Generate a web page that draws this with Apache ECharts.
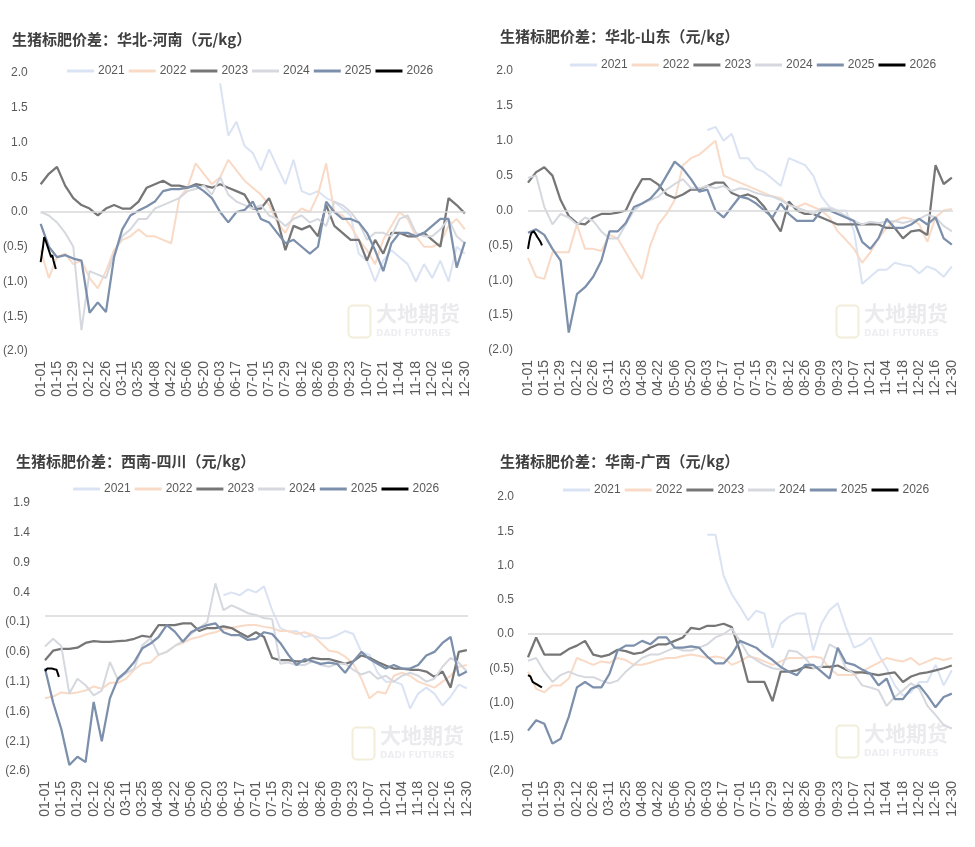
<!DOCTYPE html>
<html><head><meta charset="utf-8">
<script src="https://cdn.jsdelivr.net/npm/echarts/dist/echarts.min.js"></script>
<style>html,body{margin:0;padding:0;background:#fff}#c{width:975px;height:847px}</style>
</head><body><div id="c"></div>
<script>
// ---------- axis categories (leap-year calendar, MM-DD) ----------
const dates = [];
for (let t = Date.UTC(2024, 0, 1); t <= Date.UTC(2024, 11, 31); t += 86400000) {
  const d = new Date(t);
  dates.push(String(d.getUTCMonth() + 1).padStart(2, '0') + '-' + String(d.getUTCDate()).padStart(2, '0'));
}
const years = ['2021', '2022', '2023', '2024', '2025', '2026'];
const STEP = 7;        // main series: one reading every 7 days from 01-01
const STEP_2026 = 1;   // 2026: daily readings from 01-01

// ---------- 华北-河南 ----------
const henan2021 = [null,null,null,null,null,null,null,null,null,null,null,null,null,null,null,null,null,null,null,null,null,null,
  1.85,1.1,1.3,0.95,0.85,0.6,0.9,0.65,0.4,0.75,0.3,0.25,0.3,0.2,0.15,0.05,-0.05,-0.6,-0.7,-1.0,-0.7,-0.55,-0.65,-0.75,-1.0,-0.75,-0.95,-0.7,-1.0,-0.5,-0.6];
const henan2022 = [-0.55,-0.95,-0.65,-0.6,-0.75,-0.7,-0.95,-1.1,-0.85,-0.55,-0.4,-0.35,-0.25,-0.35,-0.35,-0.4,-0.45,0.2,0.35,0.7,0.55,0.4,0.5,0.75,0.6,0.45,0.35,0.25,0.1,-0.15,-0.3,-0.05,0.05,0.0,0.25,0.7,0.0,-0.05,-0.2,-0.4,-0.55,-0.75,-0.4,-0.2,0.0,-0.1,-0.35,-0.5,-0.5,-0.45,-0.2,-0.1,-0.25];
const henan2023 = [0.4,0.55,0.65,0.38,0.2,0.1,0.05,-0.05,0.05,0.1,0.05,0.05,0.15,0.35,0.4,0.45,0.38,0.38,0.35,0.4,0.38,0.35,0.4,0.35,0.3,0.25,0.05,0.05,0.2,-0.1,-0.55,-0.2,-0.25,-0.2,-0.35,0.1,-0.2,-0.3,-0.4,-0.4,-0.7,-0.4,-0.6,-0.3,-0.3,-0.35,-0.35,-0.3,-0.4,-0.5,0.2,0.1,-0.02];
const henan2024 = [0.0,-0.05,-0.15,-0.3,-0.5,-1.7,-0.85,-0.9,-0.95,-0.6,-0.35,-0.25,-0.1,-0.1,0.05,0.1,0.15,0.2,0.3,0.33,0.38,0.25,0.5,0.25,0.15,0.1,0.05,0.1,-0.05,-0.1,-0.2,-0.1,-0.05,-0.15,-0.1,-0.2,0.15,0.1,0.0,-0.15,-0.4,-0.3,-0.3,-0.35,-0.1,-0.05,-0.3,-0.35,-0.35,-0.25,-0.1,-0.35,-0.45];
const henan2025 = [-0.17,-0.5,-0.65,-0.62,-0.67,-0.7,-1.45,-1.3,-1.44,-0.65,-0.25,-0.05,0.02,0.08,0.15,0.3,0.33,0.33,0.35,0.38,0.3,0.2,0.0,-0.15,0.0,0.03,0.15,-0.1,-0.15,-0.3,-0.45,-0.4,-0.5,-0.6,-0.5,0.15,0.0,-0.1,-0.1,-0.15,-0.3,-0.55,-0.85,-0.45,-0.3,-0.3,-0.35,-0.3,-0.2,-0.1,-0.1,-0.8,-0.43];
const henan2026 = [-0.72,-0.7,-0.5,-0.36,-0.4,-0.45,-0.5,-0.55,-0.6,-0.65,-0.62,-0.7,-0.68,-0.82];

// ---------- 华北-山东 ----------
const shandong2021 = [null,null,null,null,null,null,null,null,null,null,null,null,null,null,null,null,null,null,null,null,null,null,
  1.15,1.2,1.0,1.1,0.75,0.75,0.6,0.55,0.45,0.35,0.75,0.7,0.65,0.5,0.2,0.05,0.0,0.0,-0.3,-1.05,-0.95,-0.85,-0.85,-0.75,-0.78,-0.8,-0.9,-0.8,-0.85,-0.95,-0.8];
const shandong2022 = [-0.68,-0.95,-0.98,-0.6,-0.6,-0.6,-0.2,-0.55,-0.55,-0.58,-0.35,-0.4,-0.6,-0.8,-0.98,-0.5,-0.2,-0.05,0.15,0.65,0.75,0.8,0.9,1.0,0.5,0.45,0.4,0.35,0.3,0.25,0.2,0.18,0.08,0.05,0.1,0.05,0.0,-0.1,-0.3,-0.42,-0.55,-0.75,-0.6,-0.4,-0.25,-0.15,-0.1,-0.12,-0.2,-0.45,-0.1,0.0,0.02];
const shandong2023 = [0.4,0.55,0.62,0.5,0.15,-0.08,-0.18,-0.2,-0.1,-0.05,-0.05,-0.03,0.0,0.25,0.45,0.45,0.37,0.23,0.18,0.23,0.3,0.3,0.35,0.4,0.4,0.25,0.2,0.23,0.18,0.05,-0.12,-0.3,0.13,0.0,-0.05,-0.05,-0.1,-0.15,-0.2,-0.2,-0.2,-0.2,-0.2,-0.2,-0.25,-0.25,-0.4,-0.3,-0.28,-0.35,0.65,0.38,0.47];
const shandong2024 = [0.47,0.5,0.05,-0.2,-0.05,-0.1,-0.2,-0.1,-0.15,-0.3,-0.4,-0.4,-0.2,0.0,0.1,0.15,0.2,0.3,0.38,0.45,0.32,0.32,0.35,0.32,0.35,0.28,0.32,0.3,0.25,0.22,0.2,0.15,0.08,0.04,0.0,-0.05,0.03,0.03,-0.01,-0.08,-0.15,-0.2,-0.16,-0.18,-0.16,-0.15,-0.18,-0.15,-0.12,-0.06,-0.1,-0.22,-0.3];
const shandong2025 = [-0.32,-0.27,-0.35,-0.55,-0.72,-1.75,-1.2,-1.1,-0.95,-0.72,-0.3,-0.3,-0.18,0.05,0.1,0.17,0.3,0.5,0.7,0.6,0.45,0.27,0.3,0.0,-0.1,0.05,0.2,0.17,0.1,0.0,-0.1,0.1,-0.05,-0.15,-0.15,-0.15,0.0,0.0,-0.05,-0.1,-0.15,-0.45,-0.55,-0.4,-0.12,-0.25,-0.25,-0.2,-0.12,-0.2,-0.1,-0.4,-0.49];
const shandong2026 = [-0.55,-0.45,-0.37,-0.32,-0.3,-0.3,-0.32,-0.35,-0.38,-0.4,-0.43,-0.46,-0.5];

// ---------- 西南-四川 ----------
const sichuan2021 = [null,null,null,null,null,null,null,null,null,null,null,null,null,null,null,null,null,null,null,null,null,null,
  0.35,0.4,0.35,0.45,0.4,0.5,0.1,-0.2,-0.26,-0.25,-0.35,-0.32,-0.37,-0.37,-0.32,-0.25,-0.3,-0.6,-0.65,-0.95,-1.1,-1.1,-1.15,-1.55,-1.3,-1.2,-1.3,-1.5,-1.35,-1.15,-1.21];
const sichuan2022 = [-1.38,-1.35,-1.28,-1.3,-1.28,-1.25,-1.18,-1.22,-1.12,-1.12,-1.05,-0.9,-0.8,-0.78,-0.65,-0.6,-0.5,-0.45,-0.38,-0.35,-0.3,-0.27,-0.22,-0.2,-0.17,-0.15,-0.15,-0.18,-0.2,-0.25,-0.25,-0.3,-0.27,-0.32,-0.45,-0.58,-0.6,-0.68,-0.8,-1.05,-1.38,-1.27,-1.3,-1.0,-0.95,-1.0,-1.1,-1.15,-1.2,-1.1,-1.0,-0.85,-0.82];
const sichuan2023 = [-0.74,-0.58,-0.55,-0.55,-0.53,-0.45,-0.42,-0.43,-0.43,-0.42,-0.41,-0.38,-0.33,-0.35,-0.15,-0.15,-0.15,-0.12,-0.12,-0.25,-0.2,-0.2,-0.17,-0.2,-0.28,-0.35,-0.27,-0.35,-0.7,-0.74,-0.74,-0.76,-0.76,-0.7,-0.72,-0.72,-0.76,-0.8,-0.76,-0.66,-0.7,-0.77,-0.83,-0.88,-0.88,-0.9,-0.9,-0.93,-1.02,-0.93,-1.2,-0.6,-0.57];
const sichuan2024 = [-0.51,-0.38,-0.5,-1.3,-1.05,-1.16,-1.33,-1.25,-0.77,-1.07,-0.96,-0.88,-0.49,-0.37,-0.65,-0.6,-0.5,-0.42,-0.3,-0.2,-0.1,0.55,0.1,0.18,0.12,0.05,0.02,-0.03,-0.05,-0.8,-0.78,-0.82,-0.82,-0.76,-0.82,-0.85,-0.8,-0.8,-0.9,-0.98,-0.93,-1.05,-1.0,-1.1,-1.0,-0.95,-1.0,-1.1,-1.05,-0.85,-0.7,-0.78,-0.93];
const sichuan2025 = [-0.88,-1.45,-1.89,-2.5,-2.36,-2.45,-1.44,-2.1,-1.38,-1.05,-0.93,-0.77,-0.54,-0.46,-0.35,-0.15,-0.26,-0.43,-0.27,-0.2,-0.15,-0.12,-0.27,-0.32,-0.32,-0.4,-0.38,-0.27,-0.3,-0.45,-0.65,-0.82,-0.72,-0.76,-0.8,-0.78,-0.8,-0.95,-0.76,-0.6,-0.72,-0.8,-0.88,-0.82,-0.88,-0.88,-0.82,-0.66,-0.6,-0.45,-0.35,-1.0,-0.93];
const sichuan2026 = [-0.92,-0.9,-0.88,-0.88,-0.88,-0.88,-0.88,-0.89,-0.89,-0.9,-0.9,-0.93,-1.02];

// ---------- 华南-广西 ----------
const guangxi2021 = [null,null,null,null,null,null,null,null,null,null,null,null,null,null,null,null,null,null,null,null,null,null,
  1.45,1.45,0.85,0.58,0.4,0.2,0.34,0.3,-0.2,0.15,0.25,0.3,0.3,-0.24,0.15,0.35,0.45,0.1,-0.2,-0.15,-0.05,-0.3,-0.5,-0.75,-0.9,-0.85,-0.7,-0.7,-0.45,-0.75,-0.53];
const guangxi2022 = [-0.55,-0.8,-0.85,-0.75,-0.75,-0.65,-0.35,-0.4,-0.45,-0.4,-0.42,-0.35,-0.38,-0.45,-0.45,-0.42,-0.38,-0.35,-0.35,-0.32,-0.3,-0.32,-0.35,-0.33,-0.35,-0.45,-0.4,-0.33,-0.35,-0.4,-0.45,-0.4,-0.35,-0.35,-0.35,-0.33,-0.35,-0.5,-0.6,-0.6,-0.6,-0.55,-0.48,-0.42,-0.35,-0.38,-0.4,-0.35,-0.45,-0.4,-0.35,-0.38,-0.35];
const guangxi2023 = [-0.34,-0.05,-0.3,-0.3,-0.3,-0.22,-0.17,-0.1,-0.3,-0.33,-0.3,-0.23,-0.25,-0.29,-0.27,-0.2,-0.15,-0.15,-0.1,-0.05,0.09,0.07,0.12,0.12,0.15,0.1,-0.25,-0.7,-0.7,-0.7,-0.98,-0.55,-0.55,-0.53,-0.48,-0.5,-0.48,-0.48,-0.46,-0.52,-0.56,-0.56,-0.58,-0.6,-0.58,-0.56,-0.7,-0.62,-0.58,-0.56,-0.53,-0.5,-0.46];
const guangxi2024 = [-0.39,-0.35,-0.55,-0.7,-0.6,-0.55,-0.6,-0.63,-0.63,-0.68,-0.72,-0.68,-0.55,-0.45,-0.35,-0.3,-0.3,-0.25,-0.2,-0.24,-0.24,-0.2,-0.15,-0.05,0.0,0.08,-0.1,-0.3,-0.38,-0.45,-0.5,-0.52,-0.24,-0.26,-0.35,-0.5,-0.48,-0.15,-0.22,-0.5,-0.58,-0.75,-0.78,-0.82,-1.05,-0.92,-0.82,-0.72,-0.8,-1.05,-1.18,-1.33,-1.38];
const guangxi2025 = [-1.41,-1.26,-1.31,-1.6,-1.53,-1.21,-0.78,-0.7,-0.78,-0.78,-0.58,-0.24,-0.17,-0.17,-0.1,-0.15,-0.05,-0.05,-0.2,-0.2,-0.18,-0.2,-0.33,-0.43,-0.43,-0.3,-0.1,-0.15,-0.2,-0.3,-0.38,-0.48,-0.55,-0.6,-0.45,-0.45,-0.55,-0.65,-0.2,-0.42,-0.45,-0.52,-0.58,-0.75,-0.65,-0.95,-0.95,-0.8,-0.75,-0.9,-1.07,-0.92,-0.87];
const guangxi2026 = [-0.6,-0.6,-0.62,-0.66,-0.7,-0.72,-0.72,-0.72,-0.74,-0.75,-0.76,-0.77,-0.78];

// ---------- styles ----------
const colors = ['#dae3f3', '#f9dac6', '#767676', '#d5d8de', '#7c8fab', '#000000'];
const widths = [2, 2, 2.25, 2, 2.25, 2];
const FONT = '"Liberation Sans", "DejaVu Sans", sans-serif';
const CJK = '"Noto Sans CJK SC", sans-serif';

const panels = [
  { title: '生猪标肥价差：华北-河南（元/kg）', tx: 12, ty: 32, lx: 67, ly: 65,
    grid: { left: 40, top: 73, width: 426, height: 278 }, min: -2, max: 2, lm: 13,
    wm: [376, 307], data: [henan2021, henan2022, henan2023, henan2024, henan2025, henan2026] },
  { title: '生猪标肥价差：华北-山东（元/kg）', tx: 500, ty: 29, lx: 570, ly: 59,
    grid: { left: 528, top: 71, width: 425, height: 279 }, min: -2, max: 2, lm: 15,
    wm: [864, 307], data: [shandong2021, shandong2022, shandong2023, shandong2024, shandong2025, shandong2026] },
  { title: '生猪标肥价差：西南-四川（元/kg）', tx: 16, ty: 454, lx: 73, ly: 483,
    grid: { left: 45, top: 503, width: 423, height: 268 }, min: -2.6, max: 1.9, lm: 15,
    wm: [380, 729], data: [sichuan2021, sichuan2022, sichuan2023, sichuan2024, sichuan2025, sichuan2026] },
  { title: '生猪标肥价差：华南-广西（元/kg）', tx: 500, ty: 454, lx: 563, ly: 484,
    grid: { left: 528, top: 497, width: 425, height: 274 }, min: -2, max: 2, lm: 14,
    wm: [864, 727], data: [guangxi2021, guangxi2022, guangxi2023, guangxi2024, guangxi2025, guangxi2026] }
];

function toPairs(arr, step) {
  const out = [];
  arr.forEach((v, i) => { if (v !== null) out.push([i * step, v]); });
  return out;
}
function fmt(v) {
  const r = Math.round(v * 10) / 10;
  if (r < 0) return '(' + Math.abs(r).toFixed(1) + ')';
  return r.toFixed(1);
}

const option = {
  animation: false,
  backgroundColor: '#ffffff',
  title: [], legend: [], grid: [], xAxis: [], yAxis: [], series: [], graphic: []
};

panels.forEach((p, pi) => {
  option.title.push({ text: p.title, left: p.tx, top: p.ty, padding: 0,
    textStyle: { fontFamily: CJK, fontWeight: 'bold', fontSize: 15, color: '#404040' } });
  option.legend.push({ data: years, left: p.lx, top: p.ly, padding: 0, icon: 'rect', itemWidth: 27, itemHeight: 3,
    itemGap: 4, textStyle: { fontFamily: FONT, fontSize: 12, color: '#595959', padding: [0, 0, 0, -1] } });
  option.grid.push(Object.assign({ containLabel: false }, p.grid));
  option.xAxis.push({ type: 'category', gridIndex: pi, data: dates, boundaryGap: false,
    axisLine: { show: false }, axisTick: { show: false }, splitLine: { show: false },
    axisLabel: { interval: 13, rotate: 90, margin: 10, fontFamily: FONT, fontSize: 14, color: '#595959' } });
  option.yAxis.push({ type: 'value', gridIndex: pi, min: p.min, max: p.max, interval: 0.5,
    axisLine: { show: false }, axisTick: { show: false }, splitLine: { show: false },
    axisLabel: { formatter: fmt, margin: p.lm, fontFamily: FONT, fontSize: 12, color: '#595959' } });
  p.data.forEach((arr, si) => {
    const s = {
      name: years[si], type: 'line', xAxisIndex: pi, yAxisIndex: pi,
      data: toPairs(arr, si === 5 ? STEP_2026 : STEP),
      showSymbol: false, symbol: 'none', smooth: false,
      lineStyle: { color: colors[si], width: widths[si] }, itemStyle: { color: colors[si] },
      emphasis: { disabled: true }
    };
    if (si === 0) {
      s.markLine = { silent: true, symbol: 'none', label: { show: false },
        lineStyle: { color: '#d9d9d9', width: 1.5, type: 'solid' }, data: [{ yAxis: 0 }] };
    }
    option.series.push(s);
  });
  // faint watermark
  option.graphic.push({ type: 'rect', left: p.wm[0] - 30, top: p.wm[1] - 4, silent: true,
    shape: { width: 22, height: 32, r: 4 }, style: { fill: 'none', stroke: '#f2eed9', lineWidth: 2 } });
  option.graphic.push({ type: 'text', left: p.wm[0], top: p.wm[1] - 4, silent: true,
    style: { text: '大地期货', font: 'bold 21px ' + CJK, fill: '#ebebee' } });
  option.graphic.push({ type: 'text', left: p.wm[0], top: p.wm[1] + 22, silent: true,
    style: { text: 'DADI FUTURES', font: 'bold 9px "DejaVu Sans", sans-serif', fill: '#eeeef2' } });
});

const chart = echarts.init(document.getElementById('c'), null, { renderer: 'canvas' });
chart.setOption(option);
</script>
</body></html>
